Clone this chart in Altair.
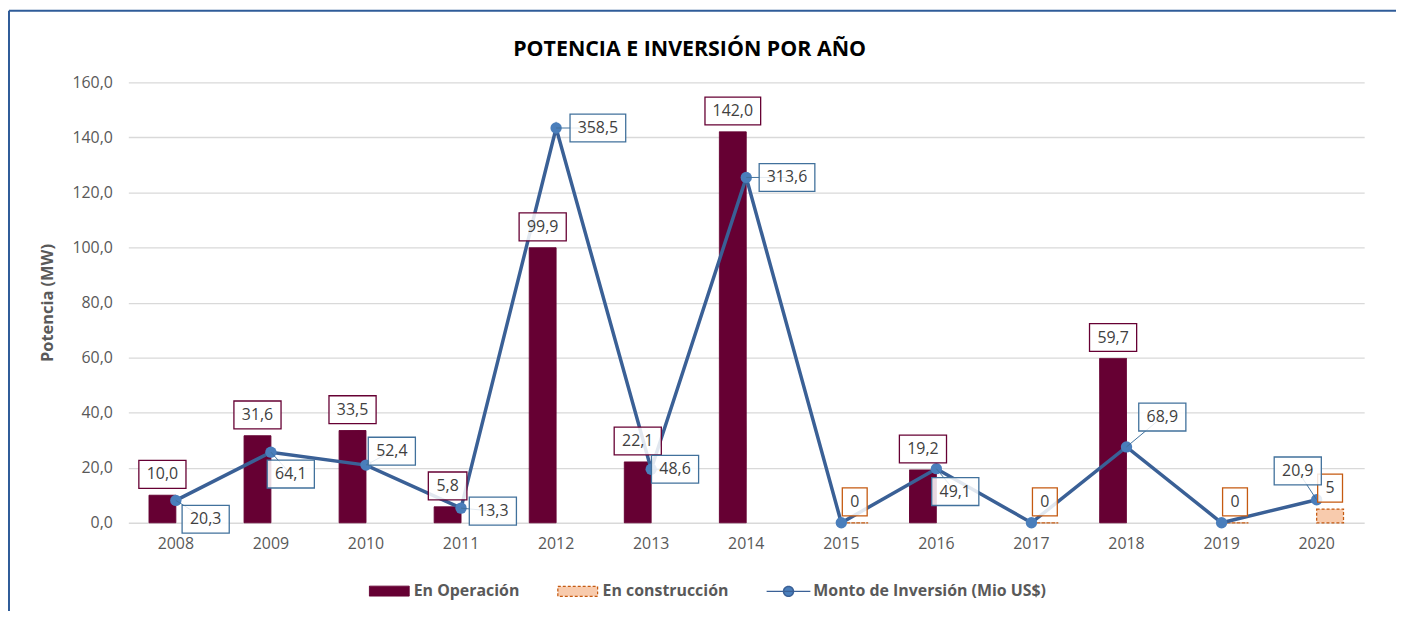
import altair as alt
import pandas as pd

# ---------------- data ----------------
YEARS = [str(y) for y in range(2008, 2021)]
OPERACION = [10.0, 31.6, 33.5, 5.8, 99.9, 22.1, 142.0, None, 19.2, None, 59.7, None, None]
CONSTRUCCION = [None, None, None, None, None, None, None, 0, None, 0, None, 0, 5]
MONTO = [20.3, 64.1, 52.4, 13.3, 358.5, 48.6, 313.6, 0, 49.1, 0, 68.9, 0, 20.9]
POT_TICKS = [0, 20, 40, 60, 80, 100, 120, 140, 160]

S_OP = "En Operación"
S_CO = "En construcción"
S_MO = "Monto de Inversión (Mio US$)"
SERIES = [S_OP, S_CO, S_MO]

# callout placement for the investment labels (pixel offsets from the point)
MONTO_LABEL_OFFSET = {
    "2008": (30, 19), "2009": (20, 22), "2010": (26, -14), "2011": (32, 3),
    "2012": (42, 0), "2013": (24, 0), "2014": (41, 0), "2016": (19, 23),
    "2018": (36, -30), "2020": (-19, -29),
}

# ---------------- style ----------------
FONT = "Open Sans"
MAROON = "#660033"
ORANGE_FILL = "#F8CBAD"
ORANGE_EDGE = "#C55A11"
LINE_BLUE = "#3A6096"
MARKER_BLUE = "#4A7EBB"
BOX_BLUE = "#41719C"
GRID = "#D9D9D9"
TEXT = "#404040"
AXIS_TXT = "#595959"
BORDER = "#2F5C99"

RECT_SYM = "M-2,-0.5H2V0.5H-2Z"
LINE_SYM = "M-2.2,0H2.2M0.5,0A0.5,0.5,0,1,1,-0.5,0A0.5,0.5,0,1,1,0.5,0Z"


def lab1(v):
    return f"{v:.1f}".replace(".", ",")


bar_rows = []
for yr, v in zip(YEARS, OPERACION):
    if v is not None:
        bar_rows.append({"year": yr, "serie": S_OP, "value": v, "label": lab1(v)})
for yr, v in zip(YEARS, CONSTRUCCION):
    if v is not None:
        bar_rows.append({"year": yr, "serie": S_CO, "value": v, "label": f"{v:g}"})
bars_df = pd.DataFrame(bar_rows)

monto_df = pd.DataFrame({"year": YEARS, "monto": MONTO, "label": [lab1(v) for v in MONTO]})

BOX_HW = "max(25, 13 + 8.6 * length(datum.label)) / 20"
BOX_PATH = "'M' + (-datum.hw) + ',-1.4H' + datum.hw + 'V1.4H' + (-datum.hw) + 'Z'"

# ---------------- encodings ----------------
X = alt.X(
    "year:N",
    scale=alt.Scale(domain=YEARS, paddingInner=0.435, paddingOuter=0.2175),
    axis=alt.Axis(title=None, labelAngle=0, ticks=False, domain=False, grid=False,
                  labelPadding=13, labelFont=FONT, labelFontSize=16, labelColor=AXIS_TXT),
)
XOFF = alt.XOffset("serie:N", scale=alt.Scale(domain=[S_OP, S_CO], paddingInner=0, paddingOuter=0))

Y1 = alt.Y(
    "value:Q",
    scale=alt.Scale(domain=[0, 160], nice=False),
    axis=alt.Axis(
        title="Potencia (MW)", values=POT_TICKS,
        labelExpr="replace(format(datum.value, '.1f'), '.', ',')",
        grid=True, gridColor=GRID, gridWidth=1.3, domain=False, ticks=False,
        labelPadding=16, labelFont=FONT, labelFontSize=16, labelColor=AXIS_TXT,
        titleFont=FONT, titleFontSize=16.5, titleFontWeight="bold", titleColor=AXIS_TXT,
        titleX=-81, titleY=221.5, titleAngle=270, titleAlign="center", titleBaseline="middle",
    ),
)
Y1_NOAXIS = alt.Y("value:Q", scale=alt.Scale(domain=[0, 160], nice=False), axis=None)
Y2 = alt.Y("monto:Q", scale=alt.Scale(domain=[0, 400], nice=False), axis=None)

LEG = alt.Legend(
    title=None, orient="none", legendX=252, legendY=501, direction="horizontal",
    symbolSize=400, labelFont=FONT, labelFontSize=16, labelFontWeight="bold",
    labelColor=AXIS_TXT, labelOffset=14, columnPadding=35, padding=0, labelLimit=400,
)
color_enc = alt.Color("serie:N", scale=alt.Scale(domain=SERIES, range=[MAROON, ORANGE_FILL, MARKER_BLUE]), legend=LEG)
stroke_enc = alt.Stroke("serie:N", scale=alt.Scale(domain=SERIES, range=[MAROON, ORANGE_EDGE, LINE_BLUE]), legend=LEG)
dash_enc = alt.StrokeDash("serie:N", scale=alt.Scale(domain=SERIES, range=[[1, 0], [3, 2], [1, 0]]), legend=LEG)
width_enc = alt.StrokeWidth("serie:N", scale=alt.Scale(domain=SERIES, range=[1, 1.5, 3]), legend=LEG)
shape_enc = alt.Shape("serie:N", scale=alt.Scale(domain=SERIES, range=[RECT_SYM, RECT_SYM, LINE_SYM]), legend=LEG)

# ---------------- layers ----------------
bars = alt.Chart(bars_df).mark_bar().encode(
    x=X, xOffset=XOFF, y=Y1, color=color_enc, stroke=stroke_enc,
    strokeDash=dash_enc, strokeWidth=width_enc,
)
legend_layer = alt.Chart(bars_df).transform_filter("false").mark_point(filled=True, opacity=1).encode(
    x=X, y=Y1, shape=shape_enc, color=color_enc, stroke=stroke_enc,
    strokeDash=dash_enc, strokeWidth=width_enc,
)

line = alt.Chart(monto_df).mark_line(color=LINE_BLUE, strokeWidth=3.5).encode(x=X, y=Y2)
points = alt.Chart(monto_df).mark_circle(color=MARKER_BLUE, size=130, opacity=1).encode(x=X, y=Y2)

bar_boxes = alt.Chart(bars_df).transform_calculate(hw=BOX_HW).transform_calculate(box=BOX_PATH).mark_point(
    filled=True, fill="white", fillOpacity=0.85, size=400, strokeWidth=1.3, yOffset=-21, opacity=1
).encode(
    x=X, xOffset=XOFF, y=Y1_NOAXIS,
    shape=alt.Shape("box:N", scale=None),
    stroke=stroke_enc,
)
bar_texts = alt.Chart(bars_df).mark_text(
    font=FONT, fontSize=16, color=TEXT, yOffset=-21, baseline="middle"
).encode(x=X, xOffset=XOFF, y=Y1_NOAXIS, text="label:N")

label_layers = []
for yr, (dx, dy) in MONTO_LABEL_OFFSET.items():
    base = alt.Chart(monto_df).transform_filter(f"datum.year == '{yr}'")
    leader = base.mark_rule(color=BOX_BLUE, strokeWidth=1, x2Offset=dx, y2Offset=dy).encode(
        x=X, x2="year:N", y=Y2, y2="monto:Q"
    )
    box = base.transform_calculate(hw=BOX_HW).transform_calculate(box=BOX_PATH).mark_point(
        filled=True, fill="white", fillOpacity=0.85, stroke=BOX_BLUE, size=400,
        strokeWidth=1.3, xOffset=dx, yOffset=dy, opacity=1
    ).encode(x=X, y=Y2, shape=alt.Shape("box:N", scale=None))
    txt = base.mark_text(
        font=FONT, fontSize=16, color=TEXT, xOffset=dx, yOffset=dy, baseline="middle"
    ).encode(x=X, y=Y2, text="label:N")
    label_layers += [leader, box, txt]

border_df = pd.DataFrame({"k": [0]})
border_left = alt.Chart(border_df).mark_rule(color=BORDER, strokeWidth=2).encode(
    x=alt.value(-120), y=alt.value(-72), y2=alt.value(560)
)
border_top = alt.Chart(border_df).mark_rule(color=BORDER, strokeWidth=2).encode(
    x=alt.value(-120), x2=alt.value(1300), y=alt.value(-72)
)

chart = alt.layer(
    alt.layer(bars, legend_layer),
    alt.layer(line, points),
    alt.layer(bar_boxes, bar_texts),
    alt.layer(*label_layers),
    border_left,
    border_top,
).resolve_scale(y="independent").properties(
    width=1243,
    height=443,
    padding={"left": 121, "top": 73, "right": 32, "bottom": 87},
    autosize=alt.AutoSizeParams(type="none"),
    title=alt.Title(
        "POTENCIA E INVERSIÓN POR AÑO", font=FONT, fontSize=21.5, fontWeight="bold",
        color="#000000", anchor="middle", dx=-57, offset=-51,
    ),
).configure_view(stroke=None)

chart.save("out.html", embed_options={"renderer": "svg", "actions": False})
